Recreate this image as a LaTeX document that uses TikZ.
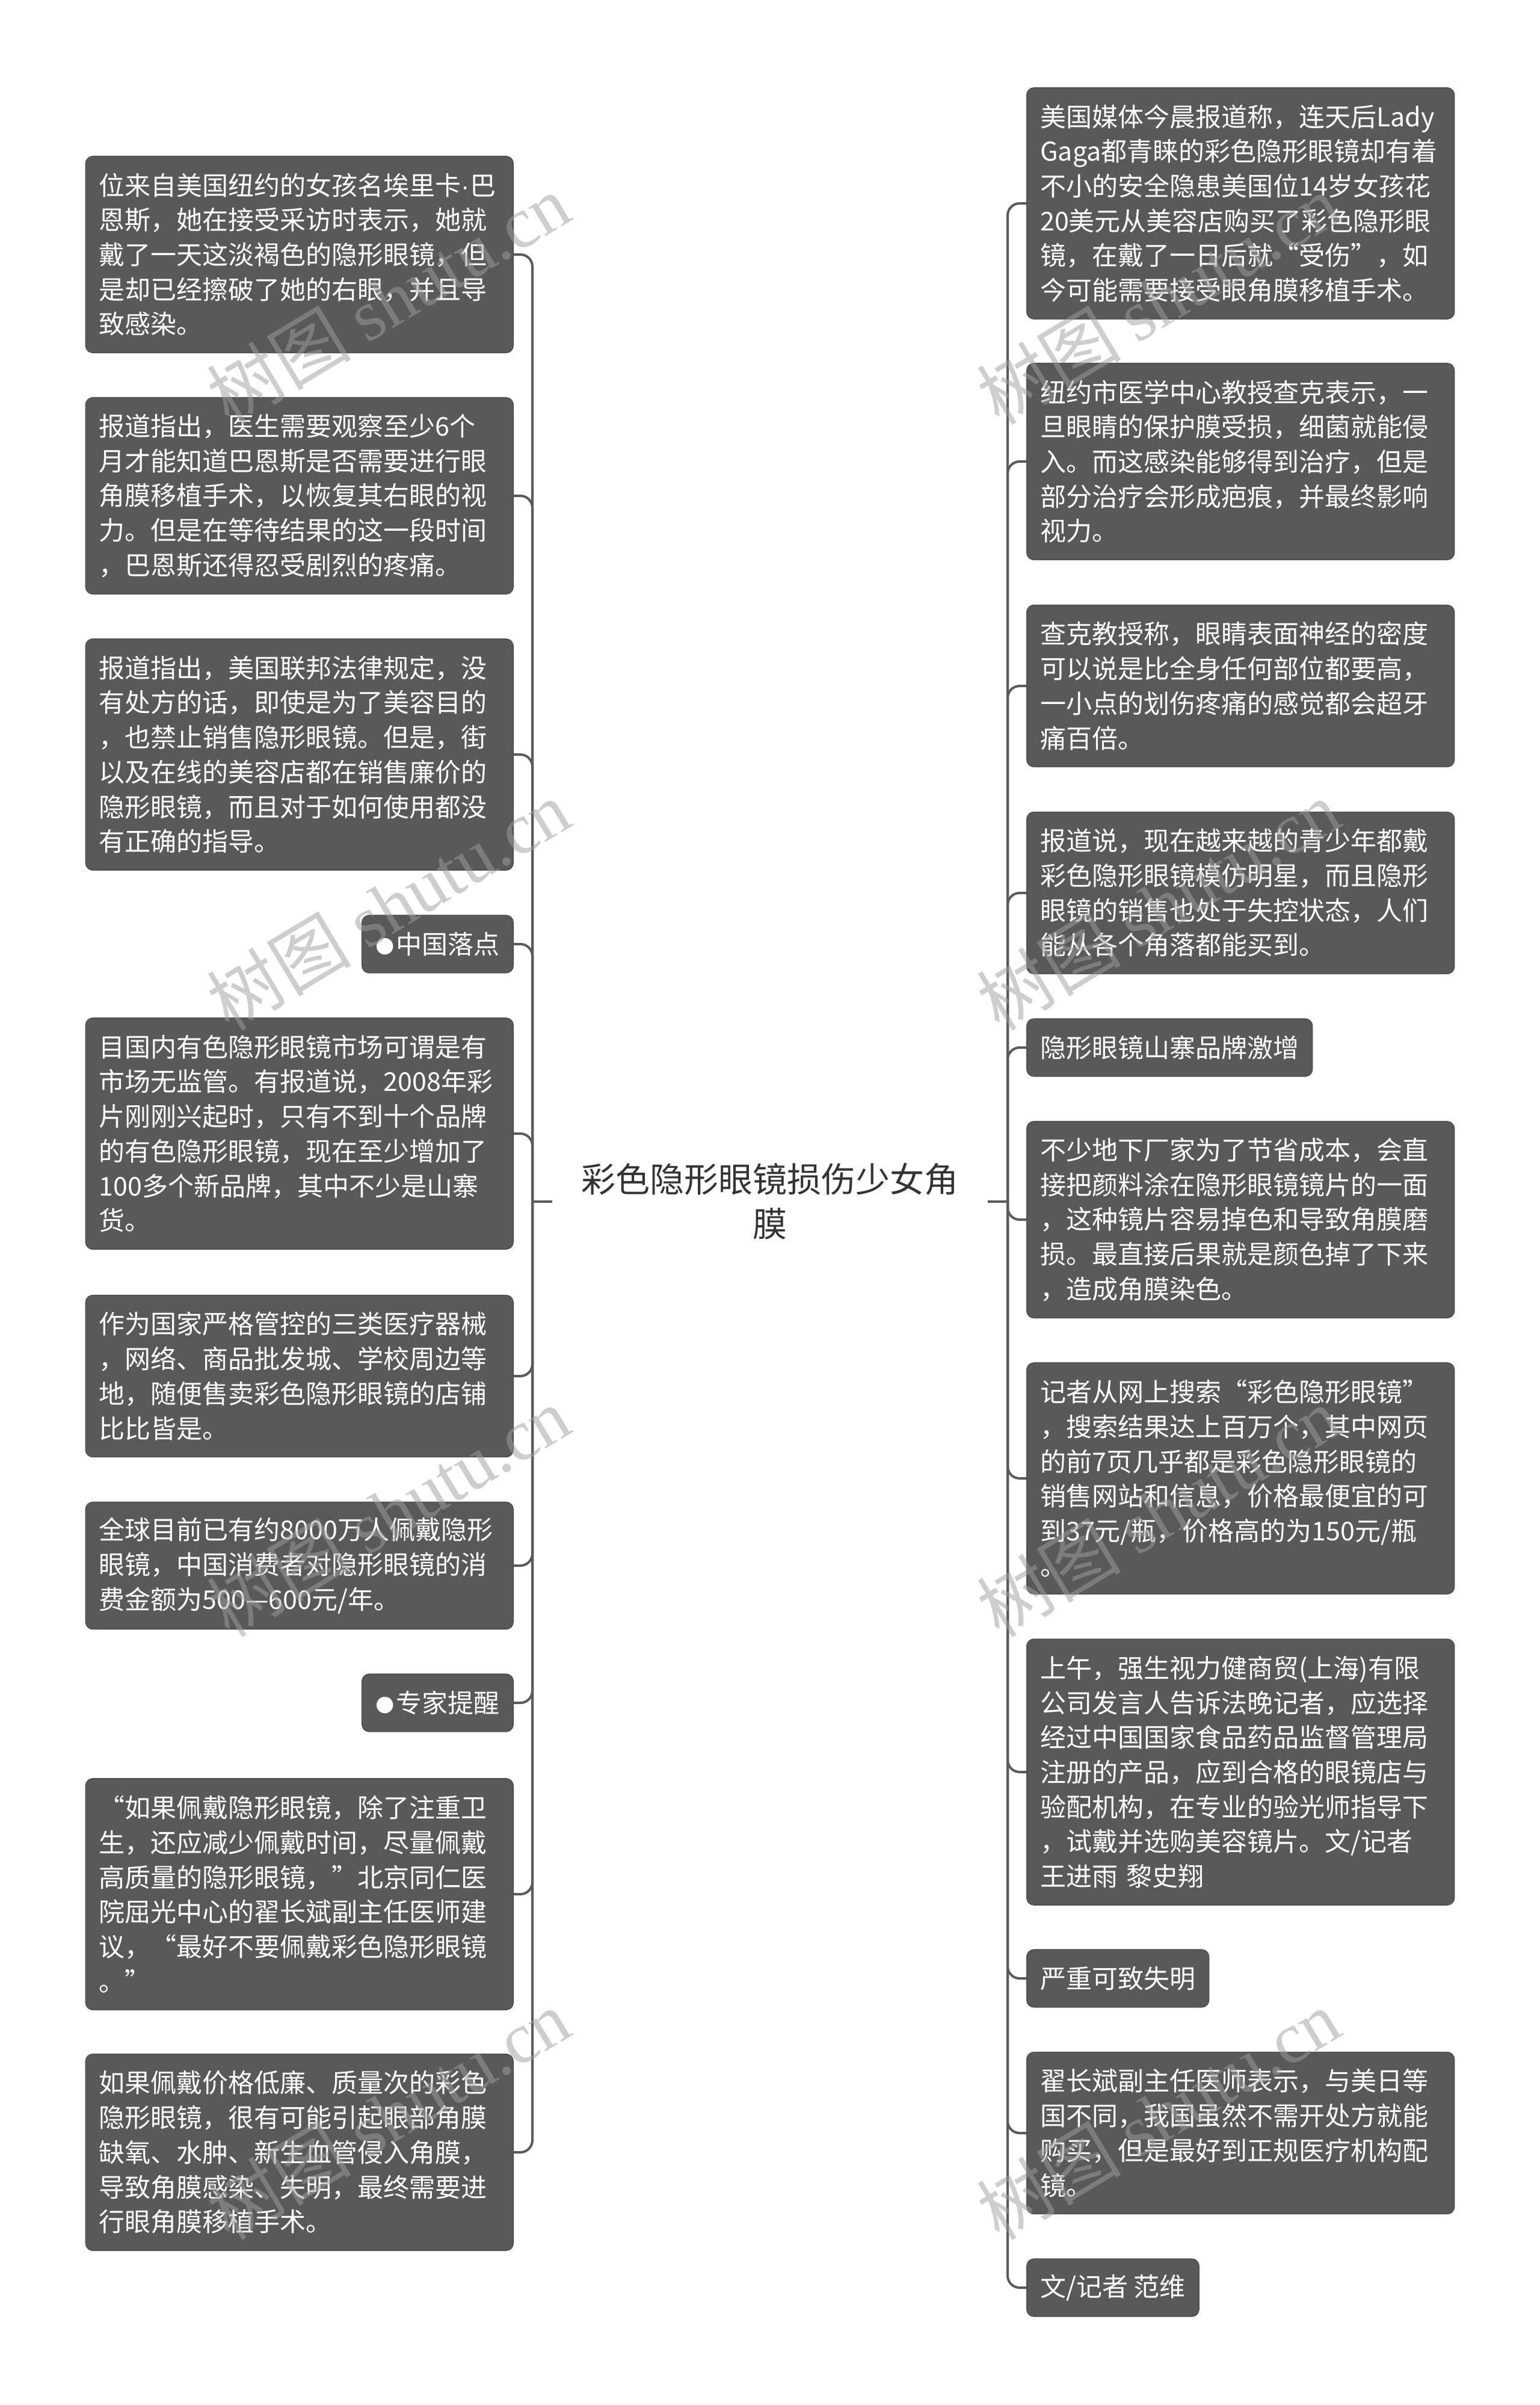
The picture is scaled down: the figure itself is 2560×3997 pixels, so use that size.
\documentclass[tikz,border=0pt]{standalone}
\usepackage{fontspec}
\setmainfont{Noto Sans CJK SC}
\newfontfamily\wmserif{Liberation Serif}
\newfontfamily\latn{Liberation Sans}
\newfontfamily\djv{DejaVu Sans}
\definecolor{boxfill}{HTML}{595959}
\definecolor{boxline}{HTML}{4F4F4F}
\definecolor{linecol}{HTML}{5A5A5A}
\definecolor{titlecol}{HTML}{333333}
\definecolor{wmcol}{HTML}{9F9F9F}
\newcommand{\bul}{\raisebox{0.7pt}{\djv\fontsize{9}{9}\selectfont ●}\kern0.8pt}
\begin{document}
\begin{tikzpicture}[x=0.25pt,y=-0.25pt,
  leaf/.style={draw=boxline, line width=0.4pt, fill=boxfill, rounded corners=3pt,
    text=white, font=\fontsize{10.75}{14.43}\selectfont, align=left,
    inner xsep=5.6pt, inner ysep=2pt},
  nl/.style={minimum height=9.47pt+14.43pt*#1},
  wide/.style={leaf, text width=166.5pt},
  conn/.style={draw=linecol, line width=1pt, rounded corners=5pt},
  wm/.style={text=wmcol, opacity=0.5, rotate=31, font=\fontsize{30}{30}\selectfont, inner sep=0pt}
]
\path[fill=white] (0,0) rectangle (2560,3997);

% central topic
\node[font=\fontsize{14.25}{18.5}\selectfont, text=titlecol, align=center, inner xsep=12pt, inner ysep=4pt]
  (T) at (1280,1997) {彩色隐形眼镜损伤少女角\\膜};
\coordinate (lroot) at (885,1997);
\coordinate (rroot) at (1675,1997);

% left side
\node[wide, nl=5, anchor=east] (L1) at (854,423) {位来自美国纽约的女孩名埃里卡{\latn ·}巴\\恩斯，她在接受采访时表示，她就\\戴了一天这淡褐色的隐形眼镜，但\\是却已经擦破了她的右眼，并且导\\致感染。};
\node[wide, nl=5, anchor=east] (L2) at (854,824) {报道指出，医生需要观察至少6个\\月才能知道巴恩斯是否需要进行眼\\角膜移植手术，以恢复其右眼的视\\力。但是在等待结果的这一段时间\\，巴恩斯还得忍受剧烈的疼痛。};
\node[wide, nl=6, anchor=east] (L3) at (854,1254) {报道指出，美国联邦法律规定，没\\有处方的话，即使是为了美容目的\\，也禁止销售隐形眼镜。但是，街\\以及在线的美容店都在销售廉价的\\隐形眼镜，而且对于如何使用都没\\有正确的指导。};
\node[leaf, nl=1, anchor=east] (L4) at (854,1569) {\bul 中国落点};
\node[wide, nl=6, anchor=east] (L5) at (854,1884) {目国内有色隐形眼镜市场可谓是有\\市场无监管。有报道说，2008年彩\\片刚刚兴起时，只有不到十个品牌\\的有色隐形眼镜，现在至少增加了\\100多个新品牌，其中不少是山寨\\货。};
\node[wide, nl=4, anchor=east] (L6) at (854,2287) {作为国家严格管控的三类医疗器械\\，网络、商品批发城、学校周边等\\地，随便售卖彩色隐形眼镜的店铺\\比比皆是。};
\node[wide, nl=3, anchor=east] (L7) at (854,2602) {全球目前已有约8000万人佩戴隐形\\眼镜，中国消费者对隐形眼镜的消\\费金额为500—600元/年。};
\node[leaf, nl=1, anchor=east] (L8) at (854,2830) {\bul 专家提醒};
\node[wide, nl=6, anchor=east] (L9) at (854,3148) {“如果佩戴隐形眼镜，除了注重卫\\生，还应减少佩戴时间，尽量佩戴\\高质量的隐形眼镜，”北京同仁医\\院屈光中心的翟长斌副主任医师建\\议，“最好不要佩戴彩色隐形眼镜\\。”};
\node[wide, nl=5, anchor=east] (L10) at (854,3577) {如果佩戴价格低廉、质量次的彩色\\隐形眼镜，很有可能引起眼部角膜\\缺氧、水肿、新生血管侵入角膜，\\导致角膜感染、失明，最终需要进\\行眼角膜移植手术。};

% right side
\node[wide, nl=6, anchor=west] (R1) at (1706,338) {美国媒体今晨报道称，连天后Lady\\Gaga都青睐的彩色隐形眼镜却有着\\不小的安全隐患美国位14岁女孩花\\20美元从美容店购买了彩色隐形眼\\镜，在戴了一日后就“受伤”，如\\今可能需要接受眼角膜移植手术。};
\node[wide, nl=5, anchor=west] (R2) at (1706,767) {纽约市医学中心教授查克表示，一\\旦眼睛的保护膜受损，细菌就能侵\\入。而这感染能够得到治疗，但是\\部分治疗会形成疤痕，并最终影响\\视力。};
\node[wide, nl=4, anchor=west] (R3) at (1706,1140) {查克教授称，眼睛表面神经的密度\\可以说是比全身任何部位都要高，\\一小点的划伤疼痛的感觉都会超牙\\痛百倍。};
\node[wide, nl=4, anchor=west] (R4) at (1706,1484) {报道说，现在越来越的青少年都戴\\彩色隐形眼镜模仿明星，而且隐形\\眼镜的销售也处于失控状态，人们\\能从各个角落都能买到。};
\node[leaf, nl=1, anchor=west] (R5) at (1706,1741) {隐形眼镜山寨品牌激增};
\node[wide, nl=5, anchor=west] (R6) at (1706,2027) {不少地下厂家为了节省成本，会直\\接把颜料涂在隐形眼镜镜片的一面\\，这种镜片容易掉色和导致角膜磨\\损。最直接后果就是颜色掉了下来\\，造成角膜染色。};
\node[wide, nl=6, anchor=west] (R7) at (1706,2457) {记者从网上搜索“彩色隐形眼镜”\\，搜索结果达上百万个，其中网页\\的前7页几乎都是彩色隐形眼镜的\\销售网站和信息，价格最便宜的可\\到37元/瓶，价格高的为150元/瓶\\。};
\node[wide, nl=7, anchor=west] (R8) at (1706,2945) {上午，强生视力健商贸(上海)有限\\公司发言人告诉法晚记者，应选择\\经过中国国家食品药品监督管理局\\注册的产品，应到合格的眼镜店与\\验配机构，在专业的验光师指导下\\，试戴并选购美容镜片。文/记者\\王进雨 黎史翔};
\node[leaf, nl=1, anchor=west] (R9) at (1706,3288) {严重可致失明};
\node[wide, nl=4, anchor=west] (R10) at (1706,3545) {翟长斌副主任医师表示，与美日等\\国不同，我国虽然不需开处方就能\\购买，但是最好到正规医疗机构配\\镜。};
\node[leaf, nl=1, anchor=west] (R11) at (1706,3802) {文/记者 范维};

% connectors
\draw[conn] (T.west) -- (lroot);
\draw[conn] (T.east) -- (rroot);
\foreach \n in {L1,L2,L3,L4,L5,L6,L7,L8,L9,L10}
  \draw[conn] (lroot) |- (\n.east);
\foreach \n in {R1,R2,R3,R4,R5,R6,R7,R8,R9,R10,R11}
  \draw[conn] (rroot) |- (\n.west);

% watermarks
\foreach \wy [count=\i] in {497,1504,2512,3514} {
  \node[wm] (wml\i) at (645,\wy) {树图 {\wmserif shutu.cn}};
  \node[wm] (wmr\i) at (1925,\wy) {树图 {\wmserif shutu.cn}};
}
\end{tikzpicture}
\end{document}
